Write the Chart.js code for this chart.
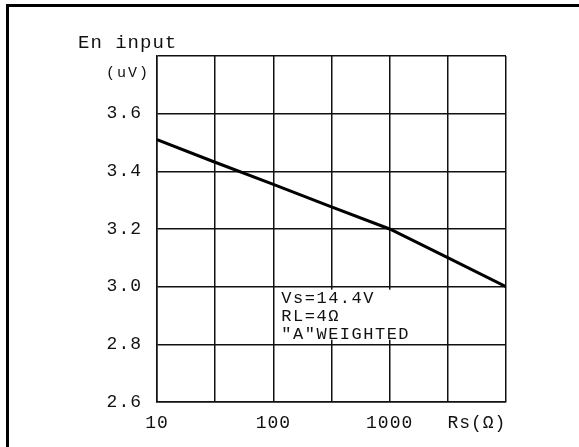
<!DOCTYPE html>
<html>
<head>
<meta charset="utf-8">
<script src="https://cdn.jsdelivr.net/npm/chart.js@4/dist/chart.umd.min.js"></script>
<style>
  html, body { margin: 0; padding: 0; background: #fff; }
  #frame {
    position: absolute; left: 6px; top: 4px; width: 573px; height: 443px;
    border-top: 3px solid #000; border-left: 3px solid #000; box-sizing: border-box;
  }
  #wrap { position: absolute; left: 0; top: 0; width: 579px; height: 447px; }
</style>
</head>
<body>
<div id="frame"></div>
<div id="wrap"><canvas id="chart"></canvas></div>
<script>
// source resistance (ohm) and input noise (uV)
const rsValues = [10, 30, 100, 300, 1000, 3000, 10000];
const enValues = [3.51, 3.435, 3.355, 3.28, 3.2, 3.105, 3.0];

// x grid every half decade, plus one unlined slot for the axis name
const xTickValues = [10, 31.6, 100, 316, 1000, 3162, 5623, 10000];
const xTickLabels = ["10", "", "100", "", "1000", "", "Rs(\u03a9)", ""];
const yTickValues = [2.6, 2.8, 3.0, 3.2, 3.4, 3.6, 3.8];
const yTickLabels = ["2.6", "2.8", "3.0", "3.2", "3.4", "3.6", ""];

const noteLines = ["Vs=14.4V", "RL=4\u03a9", "\"A\"WEIGHTED"];

const ink = "#111";
const tickFont = { family: "'Liberation Mono', 'DejaVu Sans Mono', monospace", size: 18 };

const notes = {
  id: "notes",
  beforeDraw(chart) {
    chart.ctx.letterSpacing = "1px";
  },
  afterDraw(chart) {
    const { ctx } = chart;
    const x = chart.scales.x;
    const y = chart.scales.y;
    ctx.save();
    ctx.fillStyle = ink;
    ctx.font = "19px 'Liberation Mono'";
    ctx.textBaseline = "alphabetic";
    ctx.fillText("En input", 78, 48);
    ctx.font = "15px 'Liberation Mono'";
    ctx.letterSpacing = "2px";
    ctx.textAlign = "right";
    ctx.fillText("(uV)", 150, 77);

    // note box over the grid
    const left = x.getPixelForValue(100) + 2;
    const top = y.getPixelForValue(3.0) + 3;
    ctx.fillStyle = "#fff";
    ctx.fillRect(left, top, 144, 50);
    ctx.fillStyle = ink;
    ctx.textAlign = "left";
    ctx.letterSpacing = "1.5px";
    ctx.font = "17px 'Liberation Mono'";
    noteLines.forEach((t, i) => {
      ctx.fillText(t, left + 6, top + 13 + i * 18);
    });
    ctx.restore();
  },
};

new Chart(document.getElementById("chart"), {
  type: "line",
  data: {
    labels: rsValues,
    datasets: [
      {
        data: rsValues.map((r, i) => ({ x: r, y: enValues[i] })),
        borderColor: "#000",
        borderWidth: 3,
        pointRadius: 0,
        tension: 0,
        fill: false,
      },
    ],
  },
  options: {
    responsive: true,
    maintainAspectRatio: false,
    animation: false,
    layout: { padding: { top: 56, right: 73, left: 0, bottom: 0 } },
    plugins: { legend: { display: false }, tooltip: { enabled: false } },
    scales: {
      x: {
        type: "logarithmic",
        min: 10,
        max: 10000,
        afterBuildTicks: (axis) => {
          axis.ticks = xTickValues.map((v) => ({ value: v }));
        },
        afterFit: (scale) => {
          scale.height = 45;
        },
        grid: {
          color: (ctx) => (ctx.tick && ctx.tick.value === 5623 ? "rgba(0,0,0,0)" : ink),
          lineWidth: 1.5,
          drawTicks: false,
        },
        border: { color: ink, width: 1.5 },
        ticks: {
          autoSkip: false,
          maxRotation: 0,
          padding: 10,
          color: ink,
          font: tickFont,
          callback: (v, i) => xTickLabels[i],
        },
      },
      y: {
        min: 2.6,
        max: 3.8,
        afterBuildTicks: (axis) => {
          axis.ticks = yTickValues.map((v) => ({ value: v }));
        },
        afterFit: (scale) => {
          scale.width = 157;
        },
        grid: { color: ink, lineWidth: 1.5, drawTicks: false },
        border: { color: ink, width: 1.5 },
        ticks: {
          padding: 15,
          color: ink,
          font: tickFont,
          callback: (v, i) => yTickLabels[i],
        },
      },
    },
  },
  plugins: [notes],
});
</script>
</body>
</html>
